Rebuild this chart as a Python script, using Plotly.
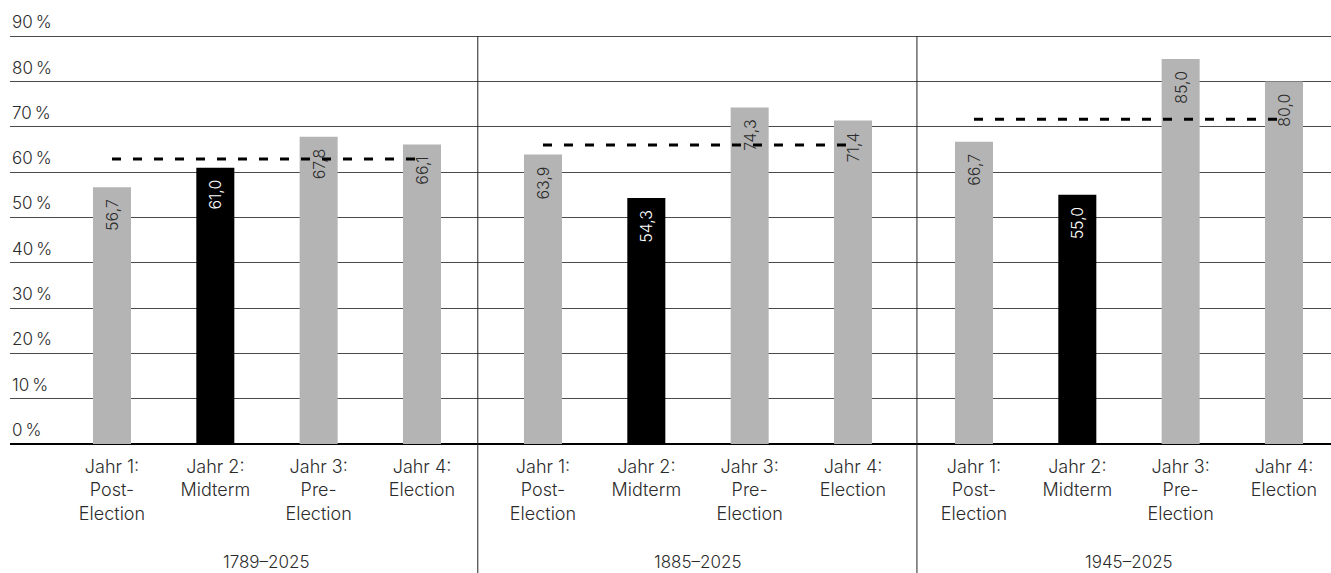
import plotly.graph_objects as go

# Data: share of positive years by year of the presidential cycle
periods = ["1789–2025", "1885–2025", "1945–2025"]
cycle_labels = ["Jahr 1:<br>Post-<br>Election", "Jahr 2:<br>Midterm",
                "Jahr 3:<br>Pre-<br>Election", "Jahr 4:<br>Election"]
values_1789 = [56.7, 61.0, 67.8, 66.1]
values_1885 = [63.9, 54.3, 74.3, 71.4]
values_1945 = [66.7, 55.0, 85.0, 80.0]
period_averages = [62.9, 66.0, 71.7]
y_ticks = [0, 10, 20, 30, 40, 50, 60, 70, 80, 90]

# Layout constants
GROUP_STEP = 4.171      # distance between first bars of neighbouring groups
BAR_WIDTH = 0.368
SEP_X = [3.54, 7.79]
X_RANGE = [-0.987, 11.797]
FONT = "Inter"
GRAY = "#b4b4b4"
TEXT = "#2b2b2b"

series = [values_1789, values_1885, values_1945]

xs, ys, colors, txtcolors, ticktext = [], [], [], [], []
for g, vals in enumerate(series):
    for i, v in enumerate(vals):
        xs.append(g * GROUP_STEP + i)
        ys.append(v)
        midterm = (i == 1)
        colors.append("#000000" if midterm else GRAY)
        txtcolors.append("#ffffff" if midterm else TEXT)
        ticktext.append(cycle_labels[i])

fig = go.Figure()
fig.add_trace(go.Bar(
    x=xs, y=ys, width=BAR_WIDTH,
    marker=dict(color=colors, line=dict(width=0)),
    texttemplate="%{y:.1f}\u00a0\u00a0",
    textposition="inside", insidetextanchor="end", textangle=-90,
    insidetextfont=dict(family=FONT, size=16, color=txtcolors, weight=300),
    constraintext="none",
    hoverinfo="skip", showlegend=False,
))

# Dashed average line for each period
for g, avg in enumerate(period_averages):
    x0 = g * GROUP_STEP
    fig.add_trace(go.Scatter(
        x=[x0, x0 + 3], y=[avg, avg], mode="lines",
        line=dict(color="#000000", width=3, dash="9px,12px"),
        hoverinfo="skip", showlegend=False,
    ))

shapes = []
for sx in SEP_X:
    shapes.append(dict(type="line", xref="x", yref="y",
                       x0=sx, x1=sx, y0=0, y1=90,
                       line=dict(color="#222222", width=1), layer="above"))
    shapes.append(dict(type="line", xref="x", yref="paper",
                       x0=sx, x1=sx, y0=-0.32, y1=0,
                       line=dict(color="#222222", width=1), layer="above"))

annotations = []
for t in y_ticks:
    annotations.append(dict(
        x=0, xref="paper", y=t, yref="y", xanchor="left", yanchor="bottom",
        yshift=2, text=f"{t}\u2009%", showarrow=False,
        font=dict(family=FONT, size=17, color=TEXT, weight=300),
    ))
for g, name in enumerate(periods):
    annotations.append(dict(
        x=g * GROUP_STEP + 1.5, xref="x", y=-0.289, yref="paper",
        xanchor="center", yanchor="middle", text=name, showarrow=False,
        font=dict(family=FONT, size=17, color=TEXT, weight=300),
    ))

fig.update_layout(
    width=1331, height=573,
    margin=dict(l=10, r=0, t=34, b=129),
    paper_bgcolor="#ffffff", plot_bgcolor="#ffffff",
    separators=",.",
    font=dict(family=FONT, size=17, color=TEXT, weight=300),
    shapes=shapes, annotations=annotations,
    xaxis=dict(range=X_RANGE, tickvals=xs, ticktext=ticktext,
               showgrid=False, zeroline=False, showline=False, ticks="",
               ticklabelstandoff=10,
               tickfont=dict(family=FONT, size=18, color=TEXT, weight=300)),
    yaxis=dict(range=[0, 90.5], tickvals=y_ticks, showticklabels=False,
               showgrid=True, gridcolor="#4a4a4a", gridwidth=1,
               zeroline=True, zerolinecolor="#000000", zerolinewidth=2,
               showline=False, ticks=""),
)

fig.write_html("out.html")
